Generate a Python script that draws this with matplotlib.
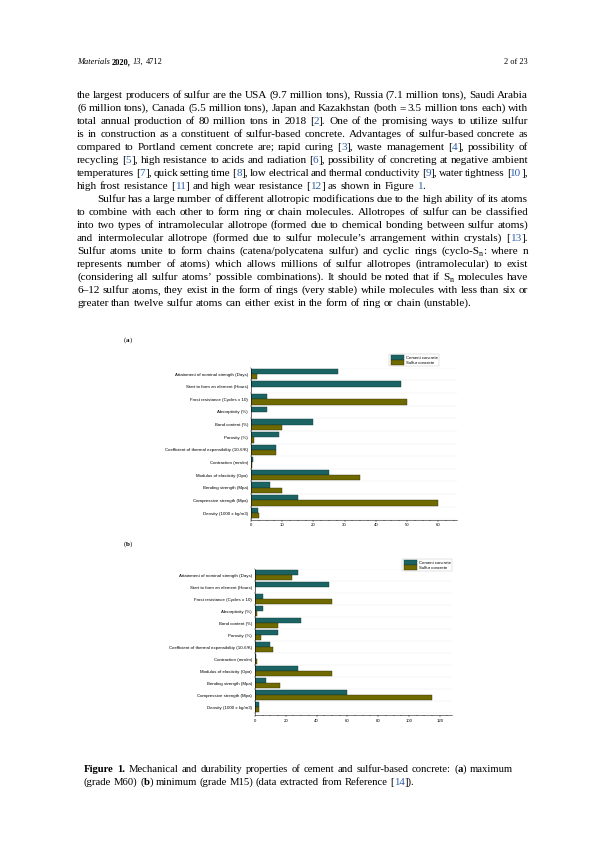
import re
import matplotlib
matplotlib.use('Agg')
import matplotlib.pyplot as plt
from matplotlib.font_manager import FontProperties
from matplotlib.patches import Patch
from matplotlib.ticker import MultipleLocator, FixedLocator

W, H = 595, 842
SERIF = 'Liberation Serif'
SANS = 'Liberation Sans'
BLUE = '#2b5fa8'
TEAL = '#1f6b6a'
OLIVE = '#6f6a00'

# ---- chart data (top to bottom as on the page) ----
categories = ['Attainment of nominal strength (Days)',
              'Start to form an element (Hours)',
              'Frost resistance (Cycles x 10)',
              'Absorptivity (%)',
              'Bond content (%)',
              'Porosity (%)',
              'Coefficient of thermal expansibility (10-6/K)',
              'Contraction (mm/m)',
              'Modulus of elasticity (Gpa)',
              'Bending strength (Mpa)',
              'Compressive strength (Mpa)',
              'Density (1000 x kg/m3)']
series_names = ['Cement concrete', 'Sulfur concrete']

cement_a = [28, 48, 5, 5, 20, 9, 8, 0.5, 25, 6, 15, 2.3]
sulfur_a = [2, 0, 50, 0, 10, 1, 8, 0.3, 35, 10, 60, 2.5]
cement_b = [28, 48, 5, 5, 30, 15, 10, 0.5, 28, 7, 60, 2.4]
sulfur_b = [24, 0, 50, 1, 15, 4, 12, 1, 50, 16, 115, 2.6]

ticks_a = [0, 10, 20, 30, 40, 50, 60]
ticks_b = [0, 20, 40, 60, 80, 100, 120]

# ---- page text ({c:..} blue citation, {b:..} bold, {i:..} italic, {s:..} subscript) ----
header_left = '{i:Materials} {b:2020,} {i:13,} 4712'
header_right = '2 of 23'

para1 = [
    'the largest producers of sulfur are the USA (9.7 million tons), Russia (7.1 million tons), Saudi Arabia',
    '(6 million tons), Canada (5.5 million tons), Japan and Kazakhstan (both = 3.5 million tons each) with',
    'total annual production of 80 million tons in 2018 [{c:2}]. One of the promising ways to utilize sulfur',
    'is in construction as a constituent of sulfur-based concrete. Advantages of sulfur-based concrete as',
    'compared to Portland cement concrete are; rapid curing [{c:3}], waste management [{c:4}], possibility of',
    'recycling [{c:5}], high resistance to acids and radiation [{c:6}], possibility of concreting at negative ambient',
    'temperatures [{c:7}], quick setting time [{c:8}], low electrical and thermal conductivity [{c:9}], water tightness [{c:10}],',
    'high frost resistance [{c:11}] and high wear resistance [{c:12}] as shown in Figure {c:1}.',
]
para2 = [
    'Sulfur has a large number of different allotropic modifications due to the high ability of its atoms',
    'to combine with each other to form ring or chain molecules. Allotropes of sulfur can be classified',
    'into two types of intramolecular allotrope (formed due to chemical bonding between sulfur atoms)',
    'and intermolecular allotrope (formed due to sulfur molecule\u2019s arrangement within crystals) [{c:13}].',
    'Sulfur atoms unite to form chains (catena/polycatena sulfur) and cyclic rings (cyclo-S{s:n}: where n',
    'represents number of atoms) which allows millions of sulfur allotropes (intramolecular) to exist',
    '(considering all sulfur atoms\u2019 possible combinations). It should be noted that if S{s:n} molecules have',
    '6\u201312 sulfur atoms, they exist in the form of rings (very stable) while molecules with less than six or',
    'greater than twelve sulfur atoms can either exist in the form of ring or chain (unstable).',
]
caption = [
    '{b:Figure} {b:1.} Mechanical and durability properties of cement and sulfur-based concrete: ({b:a}) maximum',
    '(grade M60) ({b:b}) minimum (grade M15) (data extracted from Reference [{c:14}]).',
]

plt.rcParams['hatch.linewidth'] = 0.25
fig = plt.figure(figsize=(W / 72, H / 72), dpi=72)
renderer = fig.canvas.get_renderer()


def parse(word):
    segs, pos = [], 0
    for m in re.finditer(r'\{(\w):([^}]*)\}', word):
        if m.start() > pos:
            segs.append((word[pos:m.start()], 'n'))
        segs.append((m.group(2), m.group(1)))
        pos = m.end()
    if pos < len(word):
        segs.append((word[pos:], 'n'))
    return segs


def props(kind, size):
    return FontProperties(family=SERIF,
                          size=size * 0.7 if kind == 's' else size,
                          weight='bold' if kind == 'b' else 'normal',
                          style='italic' if kind == 'i' else 'normal')


def width(text, fp):
    return renderer.get_text_width_height_descent(text, fp, ismath=False)[0]


def natural(line, size):
    words = [parse(w) for w in line.split(' ')]
    wl = [sum(width(t, props(k, size)) for t, k in segs) for segs in words]
    space = width('a a', props('n', size)) - width('aa', props('n', size))
    return words, wl, space


def fit_size(lines, span, size0=10.0):
    # size at which a typical justified line fills the span with normal spacing
    need = []
    for l in lines:
        _, wl, sp = natural(l, size0)
        need.append(size0 * span / (sum(wl) + sp * (len(wl) - 1)))
    need.sort()
    return need[len(need) // 2] * 0.99


def put_line(line, x0, x1, y, size, justify=True):
    words, wl, space = natural(line, size)
    n = len(words)
    if justify and n > 1:
        gap = (x1 - x0 - sum(wl)) / (n - 1)
        if gap < 0.55 * space:
            # too long for this size: shrink the line a little
            size *= (x1 - x0 - 0.55 * space * (n - 1)) / sum(wl)
            words, wl, space = natural(line, size)
            gap = (x1 - x0 - sum(wl)) / (n - 1)
    else:
        gap = space
    x = x0
    for segs, ww in zip(words, wl):
        xx = x
        for t, k in segs:
            fp = props(k, size)
            dy = 2 if k == 's' else 0
            fig.text(xx / W, 1 - (y + dy) / H, t, fontproperties=fp,
                     color=BLUE if k == 'c' else 'black', va='baseline', ha='left')
            xx += width(t, fp)
        x += ww + gap


# header
put_line(header_left, 77, 300, 64, 8.4, justify=False)
fig.text(528 / W, 1 - 64 / H, header_right, family=SERIF, fontsize=8.4, ha='right', va='baseline')

# body
X0, X1 = 77, 528
body_size = fit_size(para1[:-1] + para2[1:-1], X1 - X0)
y = 98
for i, line in enumerate(para1):
    put_line(line, X0, X1, y, body_size, justify=(i < len(para1) - 1))
    y += 13
for i, line in enumerate(para2):
    put_line(line, X0 + 20 if i == 0 else X0, X1, y, body_size, justify=(i < len(para2) - 1))
    y += 13

# caption
cap_size = fit_size(caption[:1], 513 - 84)
put_line(caption[0], 84, 513, 772, cap_size)
put_line(caption[1], 84, 513, 785, cap_size, justify=False)

# panel labels
put_line('({b:a})', 124, 200, 342, 7, justify=False)
put_line('({b:b})', 124, 200, 546, 7, justify=False)


def bar_chart(rect, cement, sulfur, ticks, xmax, ylow, legend_xy):
    ax = fig.add_axes([rect[0] / W, 1 - rect[3] / H, (rect[1] - rect[0]) / W, (rect[3] - rect[2]) / H])
    n = len(categories)
    pos = [n - 1 - i for i in range(n)]
    h = 0.42
    ax.barh([p + h / 2 for p in pos], cement, height=h, color=TEAL, edgecolor='#0c3b3b',
            hatch='||||||', linewidth=0.4)
    ax.barh([p - h / 2 for p in pos], sulfur, height=h, color=OLIVE, edgecolor='#2f2c00',
            linewidth=0.4)
    ax.set_xlim(0, xmax)
    ax.set_ylim(ylow, n - 0.5)
    ax.set_yticks(pos)
    ax.set_yticklabels(categories, family=SANS, fontsize=4.4)
    ax.yaxis.set_minor_locator(FixedLocator([k + 0.5 for k in range(-1, n)]))
    ax.set_xticks(ticks)
    ax.set_xticklabels([str(t) for t in ticks], family=SANS, fontsize=4.2)
    ax.xaxis.set_minor_locator(MultipleLocator((ticks[1] - ticks[0]) / 4))
    ax.tick_params(axis='y', which='major', length=0, pad=3)
    ax.tick_params(axis='y', which='minor', length=1.5, width=0.4)
    ax.tick_params(axis='x', which='major', length=2, width=0.4, pad=1.5)
    ax.tick_params(axis='x', which='minor', length=1, width=0.4)
    ax.grid(axis='y', which='minor', color='#e6e6e6', linewidth=0.4)
    ax.set_axisbelow(True)
    for s in ['top', 'right']:
        ax.spines[s].set_visible(False)
    for s in ['left', 'bottom']:
        ax.spines[s].set_linewidth(0.5)
    handles = [Patch(facecolor=TEAL, edgecolor='#0c3b3b', hatch='||||||', linewidth=0.4),
               Patch(facecolor=OLIVE, edgecolor='#2f2c00', linewidth=0.4)]
    leg = ax.legend(handles, series_names, loc='upper right',
                    bbox_to_anchor=(legend_xy[0] / W, 1 - legend_xy[1] / H),
                    bbox_transform=fig.transFigure, prop=FontProperties(family=SANS, size=4.3),
                    fancybox=False, framealpha=1, edgecolor='#bbbbbb', borderpad=0.3,
                    handlelength=3.2, handleheight=1.3, labelspacing=0.05, handletextpad=0.3,
                    borderaxespad=0)
    leg.get_frame().set_linewidth(0.4)
    return ax


bar_chart((251, 457, 367.7, 520), cement_a, sulfur_a, ticks_a, 66, -0.55, (439, 354))
bar_chart((255, 452, 569, 715), cement_b, sulfur_b, ticks_b, 128, -0.65, (452, 559))

fig.savefig('out.png', dpi=72)
